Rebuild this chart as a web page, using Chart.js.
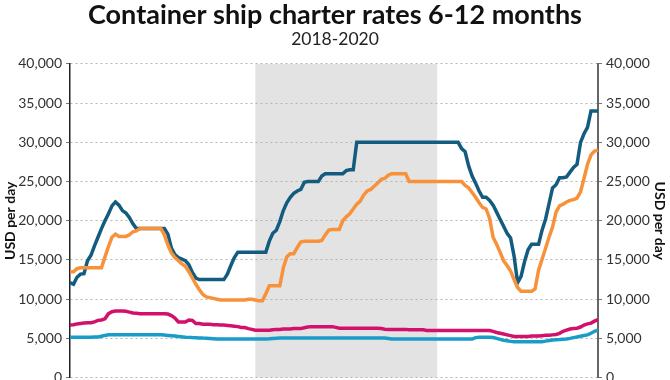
<!DOCTYPE html>
<html>
<head>
<meta charset="utf-8">
<script src="https://cdn.jsdelivr.net/npm/chart.js@4"></script>
<style>
  html, body { margin: 0; padding: 0; background: #fff; overflow: hidden; }
  #frame { width: 670px; height: 380px; overflow: hidden; position: relative; }
  #wrap { width: 670px; height: 390px; position: absolute; left: 0; top: 0; }
</style>
</head>
<body>
<div id="frame"><div id="wrap"><canvas id="chart"></canvas></div></div>
<script>
// weekly 6-12 month charter rates, USD per day
const largeShips = [
  12100, 11900, 12800, 13200, 13250, 14900, 15600, 16800, 17900, 19000,
  20000, 20900, 21900, 22400, 22000, 21300, 21000, 20400, 19600, 19000,
  19000, 19000, 19000, 19000, 19000, 19000, 19000, 19000, 18300, 16500,
  15700, 15300, 15100, 14900, 14400, 13400, 12700, 12500, 12500, 12500,
  12500, 12500, 12500, 12500, 12500, 13200, 14300, 15300, 16000, 16000,
  16000, 16000, 16000, 16000, 16000, 16000, 16000, 17400, 18400, 18800,
  19900, 21300, 22300, 23000, 23500, 23800, 24000, 24900, 25000, 25000,
  25000, 25000, 25700, 26000, 26000, 26000, 26000, 26000, 26000, 26400,
  26500, 26500, 30000, 30000, 30000, 30000, 30000, 30000, 30000, 30000,
  30000, 30000, 30000, 30000, 30000, 30000, 30000, 30000, 30000, 30000,
  30000, 30000, 30000, 30000, 30000, 30000, 30000, 30000, 30000, 30000,
  30000, 30000, 29200, 28800, 27000, 25700, 24800, 23800, 23000, 23000,
  22600, 22000, 21100, 20200, 19300, 18400, 17800, 15500, 12100, 12900,
  14800, 16300, 17000, 17000, 17000, 18800, 20200, 22200, 24200, 24600,
  25500, 25500, 25600, 26200, 26800, 27200, 30000, 31100, 31900, 34000,
  34000, 34000
];
const mediumShips = [
  13500, 13500, 13900, 14000, 14000, 14000, 14000, 14000, 14000, 14000,
  15400, 16700, 17900, 18300, 18000, 18000, 18000, 18200, 18600, 18700,
  19000, 19000, 19000, 19000, 19000, 19000, 19000, 18200, 16900, 15900,
  15300, 14900, 14500, 14200, 13500, 12700, 11900, 11200, 10600, 10300,
  10200, 10100, 10000, 9900, 9900, 9900, 9900, 9900, 9900, 9900,
  9900, 10000, 10000, 9900, 9800, 9800, 10700, 11700, 11700, 11700,
  11700, 14000, 15400, 15800, 15800, 16600, 17300, 17400, 17400, 17400,
  17400, 17400, 17500, 18200, 18800, 18900, 18900, 18900, 20000, 20500,
  20900, 21500, 22100, 22500, 23300, 23800, 24000, 24400, 24800, 25300,
  25400, 25800, 26000, 26000, 26000, 26000, 26000, 25000, 25000, 25000,
  25000, 25000, 25000, 25000, 25000, 25000, 25000, 25000, 25000, 25000,
  25000, 25000, 25000, 24500, 24200, 23600, 23000, 22300, 21700, 21500,
  20300, 17900, 17000, 16000, 14900, 14300, 13600, 12500, 11500, 11000,
  11000, 11000, 11000, 11300, 13700, 15100, 16500, 17900, 19200, 21100,
  21900, 22100, 22400, 22600, 22700, 22900, 23700, 25400, 27200, 28400,
  28900, 29000
];
const smallShips = [
  6700, 6750, 6850, 6900, 6950, 7000, 7000, 7100, 7300, 7350,
  7500, 8150, 8400, 8480, 8480, 8480, 8450, 8350, 8250, 8200,
  8150, 8150, 8150, 8150, 8150, 8150, 8150, 8140, 8100, 7900,
  7600, 7100, 7100, 7100, 7350, 7300, 6900, 6900, 6800, 6800,
  6800, 6750, 6750, 6700, 6700, 6650, 6600, 6550, 6500, 6400,
  6380, 6250, 6150, 6050, 6050, 6050, 6050, 6050, 6100, 6150,
  6150, 6200, 6200, 6200, 6250, 6250, 6250, 6350, 6450, 6500,
  6500, 6500, 6500, 6500, 6500, 6500, 6400, 6300, 6300, 6300,
  6300, 6300, 6300, 6300, 6300, 6300, 6300, 6300, 6300, 6250,
  6170, 6150, 6150, 6150, 6150, 6150, 6150, 6100, 6100, 6100,
  6100, 6100, 6000, 6000, 6000, 6000, 6000, 6000, 6000, 6000,
  6000, 6000, 6000, 6000, 6000, 6000, 6000, 6000, 6000, 6000,
  6000, 5900, 5750, 5650, 5550, 5450, 5350, 5250, 5250, 5250,
  5250, 5250, 5300, 5300, 5300, 5350, 5400, 5400, 5450, 5500,
  5650, 5900, 6050, 6200, 6250, 6300, 6450, 6700, 6850, 6950,
  7200, 7400
];
const feederShips = [
  5130, 5130, 5140, 5140, 5150, 5150, 5160, 5170, 5170, 5270,
  5380, 5460, 5460, 5460, 5460, 5460, 5460, 5460, 5460, 5460,
  5460, 5460, 5460, 5460, 5460, 5460, 5460, 5420, 5380, 5340,
  5300, 5250, 5200, 5160, 5130, 5100, 5080, 5060, 5040, 5030,
  5000, 4960, 4920, 4920, 4920, 4920, 4920, 4920, 4920, 4920,
  4920, 4920, 4920, 4920, 4920, 4920, 4930, 4960, 5000, 5030,
  5040, 5040, 5040, 5040, 5040, 5040, 5040, 5040, 5040, 5040,
  5040, 5040, 5040, 5040, 5040, 5040, 5040, 5040, 5040, 5040,
  5040, 5040, 5040, 5040, 5040, 5040, 5040, 5040, 5040, 5040,
  5040, 4980, 4920, 4920, 4920, 4920, 4920, 4920, 4920, 4920,
  4920, 4920, 4920, 4920, 4920, 4920, 4920, 4920, 4920, 4920,
  4920, 4920, 4920, 4920, 4920, 4920, 5100, 5130, 5130, 5130,
  5130, 5110, 5000, 4880, 4770, 4700, 4620, 4580, 4580, 4580,
  4580, 4580, 4580, 4580, 4580, 4580, 4650, 4720, 4790, 4820,
  4850, 4890, 4920, 5000, 5100, 5180, 5270, 5360, 5450, 5650,
  5900, 6050
];

// week labels, starting first Monday of 2018
const weeks = [];
const firstWeek = Date.UTC(2018, 0, 1);
for (let i = 0; i < largeShips.length; i++) {
  weeks.push(new Date(firstWeek + i * 7 * 86400000).toISOString().slice(0, 10));
}
const shadedYear = "2019";
const shadeFrom = weeks.findIndex((w) => w.startsWith(shadedYear));
const shadeTo = weeks.findIndex((w) => w.startsWith("2020"));

const yTicks = [0, 5000, 10000, 15000, 20000, 25000, 30000, 35000, 40000];

const shadePlugin = {
  id: "shade",
  beforeDraw(chart) {
    const { ctx, chartArea, scales } = chart;
    const x0 = scales.x.getPixelForValue(shadeFrom);
    const x1 = scales.x.getPixelForValue(shadeTo);
    ctx.save();
    ctx.fillStyle = "#e3e3e3";
    ctx.fillRect(x0, chartArea.top, x1 - x0, chartArea.bottom - chartArea.top);
    ctx.restore();
  },
};

const lineStyle = (color) => ({
  borderColor: color,
  backgroundColor: color,
  borderWidth: 3.5,
  pointRadius: 0,
  tension: 0,
  fill: false,
});

const tickFont = { family: "Lato", size: 14 };
const titleFont = { family: "Lato", size: 14, weight: "bold" };

new Chart(document.getElementById("chart"), {
  type: "line",
  data: {
    labels: weeks,
    datasets: [
      { label: "Feeder", data: feederShips, ...lineStyle("#1a9cc8") },
      { label: "Small", data: smallShips, ...lineStyle("#d1116b") },
      { label: "Medium", data: mediumShips, ...lineStyle("#f7923a") },
      { label: "Large", data: largeShips, ...lineStyle("#135c7f") },
    ],
  },
  options: {
    responsive: true,
    maintainAspectRatio: false,
    animation: false,
    layout: { padding: 0 },
    plugins: {
      legend: { display: false },
      tooltip: { enabled: false },
      title: {
        display: true,
        text: "Container ship charter rates 6-12 months",
        color: "#111",
        font: { family: "Lato", size: 27, weight: "bold", lineHeight: 1.1 },
        padding: { top: 0, bottom: 0 },
      },
      subtitle: {
        display: true,
        text: "2018-2020",
        color: "#222",
        font: { family: "Lato", size: 17.5, lineHeight: 1.1 },
        padding: { top: 0, bottom: 15 },
      },
    },
    scales: {
      x: { display: false },
      y: {
        position: "left",
        min: 0,
        max: 40000,
        afterBuildTicks: (s) => { s.ticks = yTicks.map((v) => ({ value: v })); },
        afterFit: (s) => { s.width = 70; },
        ticks: {
          color: "#333",
          font: tickFont,
          padding: 4,
          callback: (v) => v.toLocaleString("en-US"),
        },
        grid: { color: "#b5b5b5", tickColor: "#777", tickLength: 4, lineWidth: 1 },
        border: { color: "#222", width: 1.5, dash: [2, 3] },
        title: { display: true, text: "USD per day", color: "#111", font: titleFont, padding: { top: 2, bottom: 0 } },
      },
      y2: {
        position: "right",
        min: 0,
        max: 40000,
        afterBuildTicks: (s) => { s.ticks = yTicks.map((v) => ({ value: v })); },
        afterFit: (s) => { s.width = 72; },
        ticks: {
          color: "#333",
          font: tickFont,
          padding: 4,
          callback: (v) => v.toLocaleString("en-US"),
        },
        grid: { drawOnChartArea: false, tickColor: "#777", tickLength: 4 },
        border: { color: "#666", width: 2 },
        title: { display: true, text: "USD per day", color: "#111", font: titleFont, padding: { top: 2, bottom: 0 } },
      },
    },
  },
  plugins: [shadePlugin],
});
</script>
</body>
</html>
